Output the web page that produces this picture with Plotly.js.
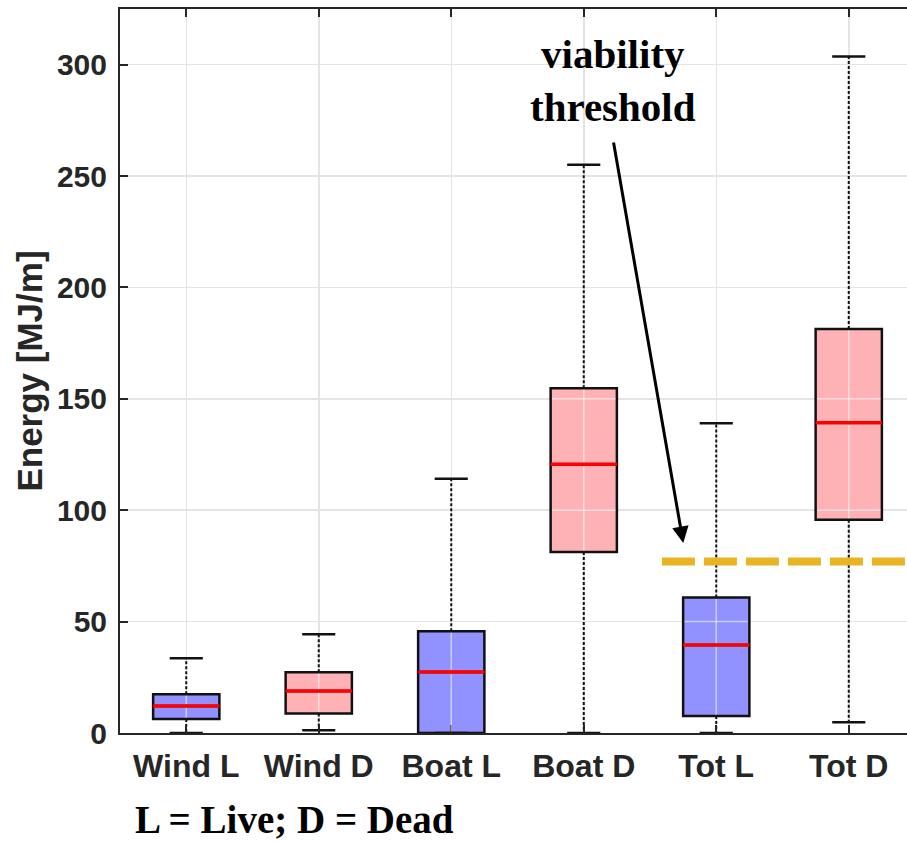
<!DOCTYPE html>
<html>
<head>
<meta charset="utf-8">
<script src="https://cdn.plot.ly/plotly-3.0.1.min.js"></script>
<style>
  html, body { margin: 0; padding: 0; overflow: hidden; background: #fff; }
  #chart { width: 930px; height: 841px; }
</style>
</head>
<body>
<div id="chart"></div>
<script>
// Energy distributions (MJ/m) for live (L) and dead (D) samples
const categories = ['Wind L', 'Wind D', 'Boat L', 'Boat D', 'Tot L', 'Tot D'];
const q1 = [6.3, 8.7, 0, 81.3, 7.6, 95.7];
const medians = [12.1, 18.9, 27.4, 120.6, 39.5, 139.3];
const q3 = [17.4, 27.3, 45.7, 154.8, 60.8, 181.3];
const lowerWhisker = [0, 1.2, 0, 0, 0, 4.8];
const upperWhisker = [33.5, 44.3, 114.1, 255.1, 139.0, 303.7];
const threshold = 77;
const yTicks = [0, 50, 100, 150, 200, 250, 300];

const positions = categories.map((_, i) => i + 1);
const liveIdx = [0, 2, 4];
const deadIdx = [1, 3, 5];

const BOX_W = 0.5;
const CAP_W = 0.25;
const Y_MAX = 325;

function boxTrace(idx, fill) {
  return {
    type: 'box',
    x: idx.map(i => positions[i]),
    q1: idx.map(i => q1[i]),
    median: idx.map(i => medians[i]),
    q3: idx.map(i => q3[i]),
    lowerfence: idx.map(i => q1[i]),
    upperfence: idx.map(i => q3[i]),
    width: BOX_W,
    fillcolor: fill,
    line: { color: '#111111', width: 2.5 },
    hoverinfo: 'skip',
    showlegend: false
  };
}

// dotted whiskers
const wx = [], wy = [];
positions.forEach((p, i) => {
  if (upperWhisker[i] > q3[i]) { wx.push(p, p, null); wy.push(q3[i], upperWhisker[i], null); }
  if (lowerWhisker[i] < q1[i]) { wx.push(p, p, null); wy.push(q1[i], lowerWhisker[i], null); }
});

// whisker caps
const cx = [], cy = [];
positions.forEach((p, i) => {
  cx.push(p - CAP_W / 2, p + CAP_W / 2, null); cy.push(upperWhisker[i], upperWhisker[i], null);
  cx.push(p - CAP_W / 2, p + CAP_W / 2, null); cy.push(lowerWhisker[i], lowerWhisker[i], null);
});

// red median bars
const mx = [], my = [];
positions.forEach((p, i) => {
  mx.push(p - BOX_W / 2, p + BOX_W / 2, null); my.push(medians[i], medians[i], null);
});

const traces = [
  boxTrace(liveIdx, '#9191FF'),
  boxTrace(deadIdx, '#FFB2B6'),
  { type: 'scatter', mode: 'lines', x: wx, y: wy, line: { color: '#111', width: 2, dash: '3px,2px' },
    hoverinfo: 'skip', showlegend: false },
  { type: 'scatter', mode: 'lines', x: cx, y: cy, line: { color: '#111', width: 2.5 },
    hoverinfo: 'skip', showlegend: false },
  { type: 'scatter', mode: 'lines', x: mx, y: my, line: { color: '#FF0000', width: 3.5 },
    hoverinfo: 'skip', showlegend: false },
  { type: 'scatter', mode: 'lines', x: [4.59, 6.5], y: [threshold, threshold],
    line: { color: '#EAB324', width: 8, dash: '33px,9px' }, hoverinfo: 'skip', showlegend: false }
];

// light grid showing through the box fills
const padX = 1.5 / 132.5, padY = 1.5 * Y_MAX / 724, gapY = 2.2 * Y_MAX / 724;
const gridOver = { color: 'rgba(255,255,255,0.55)', width: 1.5 };
const shapes = [];
positions.forEach((p, i) => {
  yTicks.forEach(g => {
    if (g > q1[i] + padY && g < q3[i] - padY) {
      shapes.push({ type: 'line', layer: 'above', xref: 'x', yref: 'y',
        x0: p - BOX_W / 2 + padX, x1: p + BOX_W / 2 - padX, y0: g, y1: g, line: gridOver });
    }
  });
  shapes.push({ type: 'line', layer: 'above', xref: 'x', yref: 'y',
    x0: p, x1: p, y0: q1[i] + padY, y1: medians[i] - gapY, line: gridOver });
  shapes.push({ type: 'line', layer: 'above', xref: 'x', yref: 'y',
    x0: p, x1: p, y0: medians[i] + gapY, y1: q3[i] - padY, line: gridOver });
});

const axisCommon = {
  showline: true, linecolor: '#262626', linewidth: 2, mirror: 'ticks',
  ticks: 'inside', ticklen: 8, tickwidth: 2, tickcolor: '#262626',
  showgrid: true, gridcolor: '#e4e4e4', gridwidth: 1.5, zeroline: false,
  fixedrange: true
};

const layout = {
  width: 930, height: 841,
  margin: { l: 120, r: 15, t: 9, b: 108 },
  paper_bgcolor: '#ffffff', plot_bgcolor: '#ffffff',
  boxmode: 'overlay',
  showlegend: false,
  xaxis: Object.assign({}, axisCommon, {
    range: [0.5, 6.5],
    tickvals: positions, ticktext: categories,
    tickfont: { family: 'Liberation Sans, Arial, sans-serif', size: 32, color: '#262626', weight: 700 },
    ticklabelstandoff: 4
  }),
  yaxis: Object.assign({}, axisCommon, {
    range: [0, Y_MAX],
    tickvals: yTicks,
    tickfont: { family: 'Liberation Sans, Arial, sans-serif', size: 30, color: '#262626', weight: 700 },
    ticklabelstandoff: 5,
    title: { text: 'Energy [MJ/m]', standoff: 4,
      font: { family: 'Liberation Sans, Arial, sans-serif', size: 35, color: '#262626', weight: 700 } }
  }),
  shapes: shapes,
  annotations: [
    { text: 'viability<br>threshold', xref: 'x', yref: 'y', x: 4.22, y: 293,
      showarrow: false, xanchor: 'center', yanchor: 'middle',
      font: { family: 'Liberation Serif, Times New Roman, serif', size: 41, color: '#000', weight: 700 } },
    { text: '', xref: 'x', yref: 'y', x: 4.751, y: 85.3, axref: 'x', ayref: 'y', ax: 4.223, ay: 265.7,
      showarrow: true, arrowhead: 2, arrowsize: 1.1, arrowwidth: 3, arrowcolor: '#000' },
    { text: 'L = Live; D = Dead', xref: 'paper', yref: 'paper', x: 0.016, y: -0.12,
      xanchor: 'left', yanchor: 'middle', showarrow: false,
      font: { family: 'Liberation Serif, Times New Roman, serif', size: 39, color: '#000', weight: 700 } }
  ]
};

Plotly.newPlot('chart', traces, layout, { displayModeBar: false, staticPlot: true });
</script>
</body>
</html>
